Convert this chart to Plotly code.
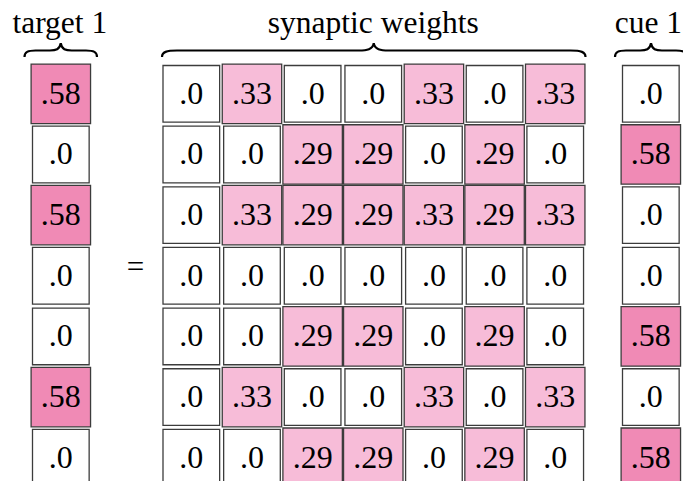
import plotly.graph_objects as go

# ---------------- data ----------------
target = [0.58, 0.0, 0.58, 0.0, 0.0, 0.58, 0.0]
cue = [0.0, 0.58, 0.0, 0.0, 0.58, 0.0, 0.58]
weights = [
    [0.0, 0.33, 0.0, 0.0, 0.33, 0.0, 0.33],
    [0.0, 0.0, 0.29, 0.29, 0.0, 0.29, 0.0],
    [0.0, 0.33, 0.29, 0.29, 0.33, 0.29, 0.33],
    [0.0, 0.0, 0.0, 0.0, 0.0, 0.0, 0.0],
    [0.0, 0.0, 0.29, 0.29, 0.0, 0.29, 0.0],
    [0.0, 0.33, 0.0, 0.0, 0.33, 0.0, 0.33],
    [0.0, 0.0, 0.29, 0.29, 0.0, 0.29, 0.0],
]
titles = ["target 1", "synaptic weights", "cue 1"]

# ---------------- layout constants ----------------
W, H = 683, 481
P = 60.65          # cell pitch
TOP = 63.5         # top of first row
X_TARGET = 30.5    # left of target column
X_W = 161.0        # left of weights block
X_CUE = 620.5      # left of cue column
TEXT_DY = 2.0      # optical centring of numbers
FONT = "Liberation Serif, Times New Roman, serif"
DARK = "#F08AB5"
LIGHT = "#F7BCD8"
EDGE = "#3c3c3c"


def fill_for(v):
    if v >= 0.5:
        return DARK
    if v > 0:
        return LIGHT
    return "white"


def label(v):
    return "." + str(int(round(v * 100))) if v > 0 else ".0"


shapes = []
tx, ty, tt = [], [], []


def add_cell(x0, y0, v):
    ins = 0.6 if v > 0 else 2.0
    shapes.append(dict(type="rect", xref="x", yref="y",
                       x0=x0 + ins, x1=x0 + P - ins,
                       y0=y0 + ins, y1=y0 + P - ins,
                       fillcolor=fill_for(v),
                       line=dict(color=EDGE, width=1.3), layer="below"))
    tx.append(x0 + P / 2)
    ty.append(y0 + P / 2 + TEXT_DY)
    tt.append(label(v))


for r, v in enumerate(target):
    add_cell(X_TARGET, TOP + r * P, v)
for r, row in enumerate(weights):
    for c, v in enumerate(row):
        add_cell(X_W + c * P, TOP + r * P, v)
for r, v in enumerate(cue):
    add_cell(X_CUE, TOP + r * P, v)


def brace(xa, xb, rad):
    xm = (xa + xb) / 2
    yb, yp, yt = 57.0, 50.5, 43.2
    return (f"M {xa},{yb} C {xa},{yp+1.5} {xa+rad*0.3},{yp} {xa+rad},{yp} "
            f"L {xm-rad},{yp} C {xm-rad*0.45},{yp} {xm-1},{yp-1} {xm},{yt} "
            f"C {xm+1},{yp-1} {xm+rad*0.45},{yp} {xm+rad},{yp} "
            f"L {xb-rad},{yp} C {xb-rad*0.3},{yp} {xb},{yp+1.5} {xb},{yb}")


for xa, xb, rad in [(24.5, 97.0, 11), (162.0, 585.5, 15), (615.0, 687.0, 11)]:
    shapes.append(dict(type="path", xref="x", yref="y", path=brace(xa, xb, rad),
                       line=dict(color="black", width=2.2)))

fig = go.Figure()
fig.add_trace(go.Scatter(x=tx, y=ty, text=tt, mode="text",
                         textposition="middle center",
                         textfont=dict(family=FONT, size=32, color="black"),
                         hoverinfo="skip", showlegend=False, cliponaxis=False))

title_x = [X_TARGET + P / 2 - 1, X_W + 3.5 * P, X_CUE + P / 2 - 2.5]
fig.add_trace(go.Scatter(x=title_x, y=[25, 25, 25], text=titles, mode="text",
                         textposition="middle center",
                         textfont=dict(family=FONT, size=31.5, color="black"),
                         hoverinfo="skip", showlegend=False, cliponaxis=False))
fig.add_trace(go.Scatter(x=[135.5], y=[TOP + 3.4 * P], text=["="], mode="text",
                         textposition="middle center",
                         textfont=dict(family=FONT, size=31, color="black"),
                         hoverinfo="skip", showlegend=False))

fig.update_layout(
    width=W, height=H, margin=dict(l=0, r=0, t=0, b=0),
    paper_bgcolor="white", plot_bgcolor="white",
    xaxis=dict(range=[0, W], visible=False, fixedrange=True),
    yaxis=dict(range=[H, 0], visible=False, fixedrange=True),
    shapes=shapes,
)
fig.write_html("out.html",
               config={"displayModeBar": False, "staticPlot": True},
               post_script="document.body.style.margin='0';"
                           "document.body.style.overflow='hidden';")
